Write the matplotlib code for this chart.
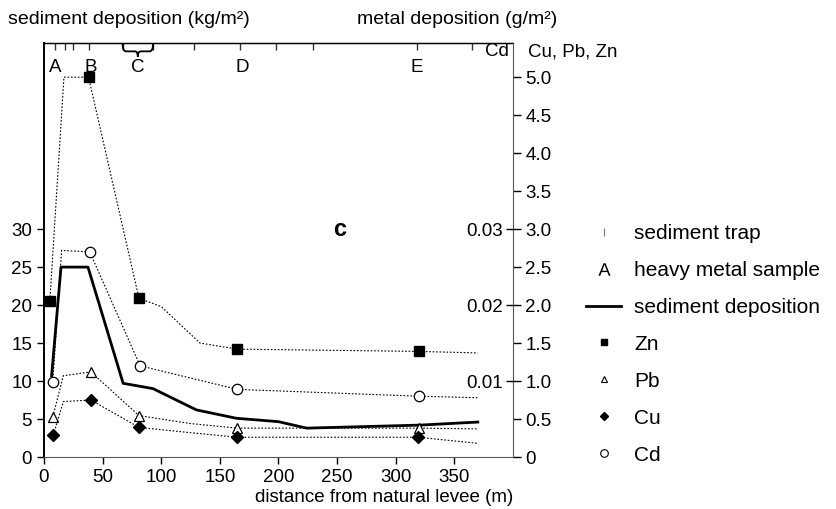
import matplotlib.pyplot as plt
from matplotlib.path import Path
import matplotlib.patches as mpatches
from matplotlib.lines import Line2D

plt.rcParams['font.family'] = ['Liberation Sans', 'DejaVu Sans']
plt.rcParams['mathtext.fontset'] = 'custom'
plt.rcParams['mathtext.rm'] = 'Liberation Sans'

# sediment traps (top ticks) and sampling sites
trap_x = [9, 18, 25, 38, 67, 93, 128, 167, 198, 229, 318, 365]
sample_names = ['A', 'B', 'C', 'D', 'E']
sample_lab_x = [9.4, 40, 80, 169, 318]

# sediment deposition (kg/m2)
sed_x = [6.5, 14.5, 37.5, 67.5, 93, 130, 164, 200, 224, 321, 370]
sed_y = [10.7, 25.0, 25.0, 9.7, 9.0, 6.2, 5.1, 4.65, 3.8, 4.2, 4.6]

# metal deposition (g/m2), line vertices + which vertices carry a marker
zn_x = [5, 17, 38, 81, 100, 133, 165, 320, 370]
zn_y = [2.06, 5.0, 5.0, 2.09, 1.98, 1.50, 1.42, 1.39, 1.37]
zn_mk = [0, 2, 3, 6, 7]

pb_x = [7.5, 16.5, 40, 81, 125, 165, 320, 370]
pb_y = [0.53, 1.07, 1.12, 0.545, 0.44, 0.38, 0.38, 0.37]
pb_mk = [0, 2, 3, 5, 6]

cu_x = [8, 16.5, 40, 81, 125, 165, 319, 370]
cu_y = [0.29, 0.73, 0.75, 0.39, 0.32, 0.26, 0.26, 0.18]
cu_mk = [0, 2, 3, 5, 6]

cd_x = [7.5, 15, 39, 82, 165, 320, 370]
cd_y = [0.00985, 0.0272, 0.0270, 0.0120, 0.0089, 0.0080, 0.0078]
cd_mk = [0, 2, 3, 4, 5]

x_ticks = [0, 50, 100, 150, 200, 250, 300, 350]
sed_ticks = [0, 5, 10, 15, 20, 25, 30]
met_ticks = [0, 0.5, 1.0, 1.5, 2.0, 2.5, 3.0, 3.5, 4.0, 4.5, 5.0]
cd_ticks = [0.01, 0.02, 0.03]

TS = 13.5
dots = (0, (1.5, 1.6))

fig = plt.figure(figsize=(8.37, 5.09), dpi=100)
ax = fig.add_axes([44/837, 1-457/509, (513-44)/837, (457-43)/509])
ax.set_xlim(0, 400)
ax.set_ylim(0, 54.5)

ax.plot(sed_x, sed_y, color='k', lw=2, zorder=3)

ax.set_xticks(x_ticks)
ax.set_yticks(sed_ticks)
ax.tick_params(direction='out', length=5, width=1, labelsize=TS, colors='k')
ax.spines['left'].set_linewidth(1.4)
ax.spines['bottom'].set_color('#555555')
ax.spines['right'].set_visible(False)
ax.spines['top'].set_linewidth(1)
ax.set_xlabel('distance from natural levee (m)', fontsize=TS, loc='right', labelpad=2)

top = ax.secondary_xaxis('top')
top.set_xticks(trap_x)
top.tick_params(direction='in', length=5, width=1, labeltop=False, color='#333333')

# metals Cu, Pb, Zn
ax2 = ax.twinx()
ax2.set_ylim(0, 5.45)
ax2.set_yticks(met_ticks)
ax2.set_yticklabels(['0'] + ['%.1f' % v for v in met_ticks[1:]])
ax2.tick_params(direction='out', length=6, width=1, labelsize=TS, pad=3)
for s in ['left', 'top', 'bottom']:
    ax2.spines[s].set_visible(False)
ax2.spines['right'].set_color('#555555')

ax2.plot(zn_x, zn_y, color='k', lw=0.8, ls=dots)
ax2.plot([zn_x[i] for i in zn_mk], [zn_y[i] for i in zn_mk], ls='none',
         marker='s', ms=7, color='k')
ax2.plot(pb_x, pb_y, color='k', lw=0.8, ls=dots)
ax2.plot([pb_x[i] for i in pb_mk], [pb_y[i] for i in pb_mk], ls='none',
         marker='^', ms=7, mfc='white', mec='k', mew=0.9)
ax2.plot(cu_x, cu_y, color='k', lw=0.8, ls=dots)
ax2.plot([cu_x[i] for i in cu_mk], [cu_y[i] for i in cu_mk], ls='none',
         marker='D', ms=6, color='k')

# Cd axis, labels inside the right spine
ax3 = ax.twinx()
ax3.set_ylim(0, 0.0545)
for s in ['right', 'top', 'bottom']:
    ax3.spines[s].set_visible(False)
ax3.spines['left'].set_position(('axes', 1.0))
ax3.spines['left'].set_visible(False)
ax3.yaxis.set_ticks_position('left')
ax3.set_yticks(cd_ticks)
ax3.set_yticklabels(['%.2f' % v for v in cd_ticks])
ax3.tick_params(direction='out', length=5, width=1, labelsize=TS, pad=2)
ax3.plot(cd_x, cd_y, color='k', lw=0.8, ls=dots)
ax3.plot([cd_x[i] for i in cd_mk], [cd_y[i] for i in cd_mk], ls='none',
         marker='o', ms=7.5, mfc='white', mec='k', mew=0.9)

# sample letters and brace over C traps
for name, xx in zip(sample_names, sample_lab_x):
    ax.text(xx, 51.25, name, fontsize=TS, ha='center', va='center')
x0, x1 = trap_x[4], trap_x[5]
xm = (x0 + x1) / 2
yt, ym, yp = 54.4, 53.4, 52.7
verts = [(x0, yt), (x0, ym), (x0 + 3, ym), (xm - 2.5, ym), (xm, ym), (xm, yp),
         (xm, ym), (xm + 2.5, ym), (x1 - 3, ym), (x1, ym), (x1, yt)]
codes = [Path.MOVETO, Path.CURVE3, Path.CURVE3, Path.LINETO, Path.CURVE3, Path.CURVE3,
         Path.CURVE3, Path.CURVE3, Path.LINETO, Path.CURVE3, Path.CURVE3]
ax.add_patch(mpatches.PathPatch(Path(verts, codes), fc='none', ec='k', lw=1.3, clip_on=False))

ax.text(252.6, 30, 'c', fontsize=17, fontweight='bold', ha='center', va='center')

fig.text(8/837, 1-20/509, 'sediment deposition (kg/m²)', fontsize=14, va='center')
fig.text(357/837, 1-20/509, 'metal deposition (g/m²)', fontsize=14, va='center')
fig.text(497/837, 1-52/509, 'Cd', fontsize=TS, ha='center', va='center')
fig.text(528/837, 1-52/509, 'Cu, Pb, Zn', fontsize=TS, ha='left', va='center')

handles = [
    Line2D([], [], ls='none', marker='|', color='#777777', ms=6, mew=0.8),
    Line2D([], [], ls='none', marker=r'$\mathrm{A}$', color='k', ms=9, mew=0),
    Line2D([], [], color='k', lw=2),
    Line2D([], [], ls='none', marker='s', color='k', ms=5),
    Line2D([], [], ls='none', marker='^', mfc='white', mec='k', ms=5, mew=0.8),
    Line2D([], [], ls='none', marker='D', color='k', ms=4.5),
    Line2D([], [], ls='none', marker='o', mfc='white', mec='k', ms=5.5, mew=0.8),
]
labels = ['sediment trap', 'heavy metal sample', 'sediment deposition',
          'Zn', 'Pb', 'Cu', 'Cd']
fig.legend(handles, labels, loc='upper left', bbox_to_anchor=(586/837, 1-224/509),
           frameon=False, fontsize=15, handlelength=1.7, handletextpad=0.6,
           labelspacing=0.86, borderpad=0, borderaxespad=0)

fig.savefig('out.png', dpi=100)
